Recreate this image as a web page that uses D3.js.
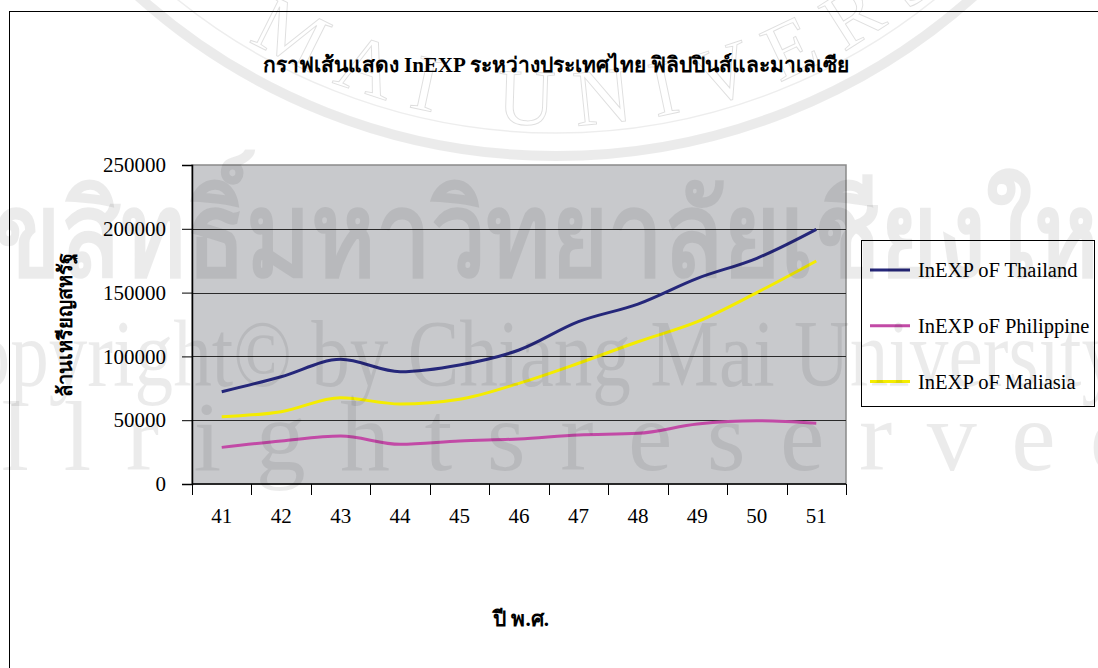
<!DOCTYPE html>
<html>
<head>
<meta charset="utf-8">
<script src="https://cdn.jsdelivr.net/npm/d3@7"></script>
<style>
  body { margin: 0; background: #fff; }
  svg { display: block; }
  text { font-family: "Liberation Serif", "Times New Roman", serif; }
</style>
</head>
<body>
<script>
// Line chart: InEXP of Thailand, Philippines and Malaysia

// Data
var years = ["41", "42", "43", "44", "45", "46", "47", "48", "49", "50", "51"];
var thailand = [72300, 84100, 97700, 88000, 93300, 105000, 127200, 141000, 161200, 176900, 199600];
var philippine = [28700, 33700, 37600, 31100, 33700, 35300, 38400, 39700, 47000, 49600, 47600];
var maliasia = [52700, 56700, 67600, 62700, 66400, 78900, 94600, 111500, 127200, 150000, 174800];
var yTicks = [0, 50000, 100000, 150000, 200000, 250000];
var seriesNames = ["InEXP oF Thailand", "InEXP oF Philippine", "InEXP oF Maliasia"];
var seriesColors = ["#25277a", "#c24aa6", "#f4ec00"];

var w = 1098;
var h = 668;

var svg = d3.select("body").append("svg")
    .attr("width", w)
    .attr("height", h);

// Chart frame
svg.append("rect")
    .attr("x", 9.5)
    .attr("y", 11.5)
    .attr("width", 1100)
    .attr("height", 700)
    .attr("fill", "#fff")
    .attr("stroke", "#000")
    .attr("stroke-width", 1);

// Scales
var x = d3.scaleBand()
    .domain(years)
    .range([192, 846]);

var y = d3.scaleLinear()
    .domain([0, 250000])
    .range([484, 165]);

// Plot area
svg.append("rect")
    .attr("x", x.range()[0])
    .attr("y", y(250000))
    .attr("width", x.range()[1] - x.range()[0])
    .attr("height", y(0) - y(250000))
    .attr("fill", "#c8c9cc")
    .attr("stroke", "#8a8a8a")
    .attr("stroke-width", 1.5);

// Gridlines
svg.append("g")
    .selectAll("line")
    .data(yTicks.slice(1, 5))
    .enter()
    .append("line")
    .attr("x1", x.range()[0])
    .attr("x2", x.range()[1])
    .attr("y1", function(d) { return Math.round(y(d)) + 0.5; })
    .attr("y2", function(d) { return Math.round(y(d)) + 0.5; })
    .attr("stroke", "#2a2a2a")
    .attr("stroke-width", 1);

// Y axis
var yAxis = svg.append("g")
    .attr("transform", "translate(" + x.range()[0] + ",0)")
    .call(d3.axisLeft(y).tickValues(yTicks).tickSize(10).tickPadding(16).tickFormat(d3.format("d")));
yAxis.select(".domain").attr("stroke", "#000").attr("stroke-width", 1.5);
yAxis.selectAll(".tick line").attr("stroke", "#000");
yAxis.selectAll(".tick text")
    .attr("font-size", 21)
    .attr("fill", "#000")
    .style("font-family", "'Liberation Serif', serif");

// X axis: ticks at category edges, labels at centres
var edges = years.map(function(d) { return x(d); }).concat([x.range()[1]]);
svg.append("line")
    .attr("x1", x.range()[0])
    .attr("x2", x.range()[1])
    .attr("y1", y(0))
    .attr("y2", y(0))
    .attr("stroke", "#000")
    .attr("stroke-width", 1.5);
svg.append("g")
    .selectAll("line")
    .data(edges)
    .enter()
    .append("line")
    .attr("x1", function(d) { return Math.round(d) + 0.5; })
    .attr("x2", function(d) { return Math.round(d) + 0.5; })
    .attr("y1", y(0))
    .attr("y2", y(0) + 11)
    .attr("stroke", "#000");
svg.append("g")
    .selectAll("text")
    .data(years)
    .enter()
    .append("text")
    .attr("x", function(d) { return x(d) + x.bandwidth() / 2; })
    .attr("y", 523)
    .attr("text-anchor", "middle")
    .attr("font-size", 21)
    .text(function(d) { return d; });

// Lines
var line = d3.line()
    .x(function(d, i) { return x(years[i]) + x.bandwidth() / 2; })
    .y(function(d) { return y(d); })
    .curve(d3.curveMonotoneX);

svg.append("g")
    .selectAll("path")
    .data([thailand, philippine, maliasia])
    .enter()
    .append("path")
    .attr("d", line)
    .attr("fill", "none")
    .attr("stroke", function(d, i) { return seriesColors[i]; })
    .attr("stroke-width", 3);

// Titles
svg.append("text")
    .attr("x", 556)
    .attr("y", 72)
    .attr("text-anchor", "middle")
    .attr("font-size", 21)
    .attr("font-weight", "bold")
    .text("กราฟเส้นแสดง InEXP ระหว่างประเทศไทย ฟิลิปปินส์และมาเลเซีย");

svg.append("text")
    .attr("transform", "translate(72,325) rotate(-90)")
    .attr("text-anchor", "middle")
    .attr("font-size", 20)
    .attr("font-weight", "bold")
    .text("ล้านเหรียญสหรัฐ");

svg.append("text")
    .attr("x", 521)
    .attr("y", 626)
    .attr("text-anchor", "middle")
    .attr("font-size", 21)
    .attr("font-weight", "bold")
    .text("ปี พ.ศ.");

// Legend
var legend = svg.append("g");
legend.append("rect")
    .attr("x", 861.5)
    .attr("y", 240.5)
    .attr("width", 233)
    .attr("height", 166)
    .attr("fill", "#fff")
    .attr("stroke", "#000");

var legendItems = legend.selectAll("g.item")
    .data(seriesNames)
    .enter()
    .append("g")
    .attr("class", "item")
    .attr("transform", function(d, i) { return "translate(870," + (270 + i * 55.8) + ")"; });
legendItems.append("line")
    .attr("x1", 0)
    .attr("x2", 40)
    .attr("stroke", function(d, i) { return seriesColors[i]; })
    .attr("stroke-width", 3);
legendItems.append("text")
    .attr("x", 48)
    .attr("y", 7)
    .attr("font-size", 20.5)
    .text(function(d) { return d; });

// Watermark overlay
var wm = svg.append("g")
    .attr("fill", "#000")
    .attr("fill-opacity", 0.08)
    .style("pointer-events", "none");

var sealCx = 556, sealCy = -470;
wm.append("circle")
    .attr("cx", sealCx)
    .attr("cy", sealCy)
    .attr("r", 626)
    .attr("fill", "none")
    .attr("stroke", "#000")
    .attr("stroke-opacity", 0.08)
    .attr("stroke-width", 10);
wm.append("circle")
    .attr("cx", sealCx)
    .attr("cy", sealCy)
    .attr("r", 603)
    .attr("fill", "none")
    .attr("stroke", "#000")
    .attr("stroke-opacity", 0.07)
    .attr("stroke-width", 1.5);

var sealR = 595;
var sealPath = d3.path();
sealPath.moveTo(sealCx + sealR * Math.cos(Math.PI / 2 + 1.2), sealCy + sealR * Math.sin(Math.PI / 2 + 1.2));
sealPath.arc(sealCx, sealCy, sealR, Math.PI / 2 + 1.2, Math.PI / 2 - 1.2, true);
wm.append("defs").append("path")
    .attr("id", "sealArc")
    .attr("d", sealPath.toString());
wm.append("text")
    .attr("font-size", 80)
    .attr("fill", "none")
    .attr("stroke", "#000")
    .attr("stroke-opacity", 0.13)
    .attr("stroke-width", 1)
    .attr("letter-spacing", 22)
    .append("textPath")
    .attr("href", "#sealArc")
    .attr("startOffset", 391)
    .text("MAI UNIVERSITY");

wm.append("text")
    .attr("x", 549)
    .attr("y", 276)
    .attr("text-anchor", "middle")
    .attr("font-size", 118)
    .attr("font-weight", "bold")
    .attr("textLength", 1230)
    .attr("lengthAdjust", "spacingAndGlyphs")
    .style("font-family", "'DejaVu Sans', sans-serif")
    .text("ลิขสิทธิ์มหาวิทยาลัยเชียงใหม่");

wm.append("text")
    .attr("x", 520)
    .attr("y", 386)
    .attr("text-anchor", "middle")
    .attr("font-size", 96)
    .attr("textLength", 1200)
    .attr("lengthAdjust", "spacingAndGlyphs")
    .text("Copyright© by Chiang Mai University");

wm.append("text")
    .attr("x", 520)
    .attr("y", 470)
    .attr("text-anchor", "middle")
    .attr("font-size", 100)
    .attr("textLength", 1240)
    .attr("lengthAdjust", "spacing")
    .text("A l l   r i g h t s   r e s e r v e d");
</script>
</body>
</html>
